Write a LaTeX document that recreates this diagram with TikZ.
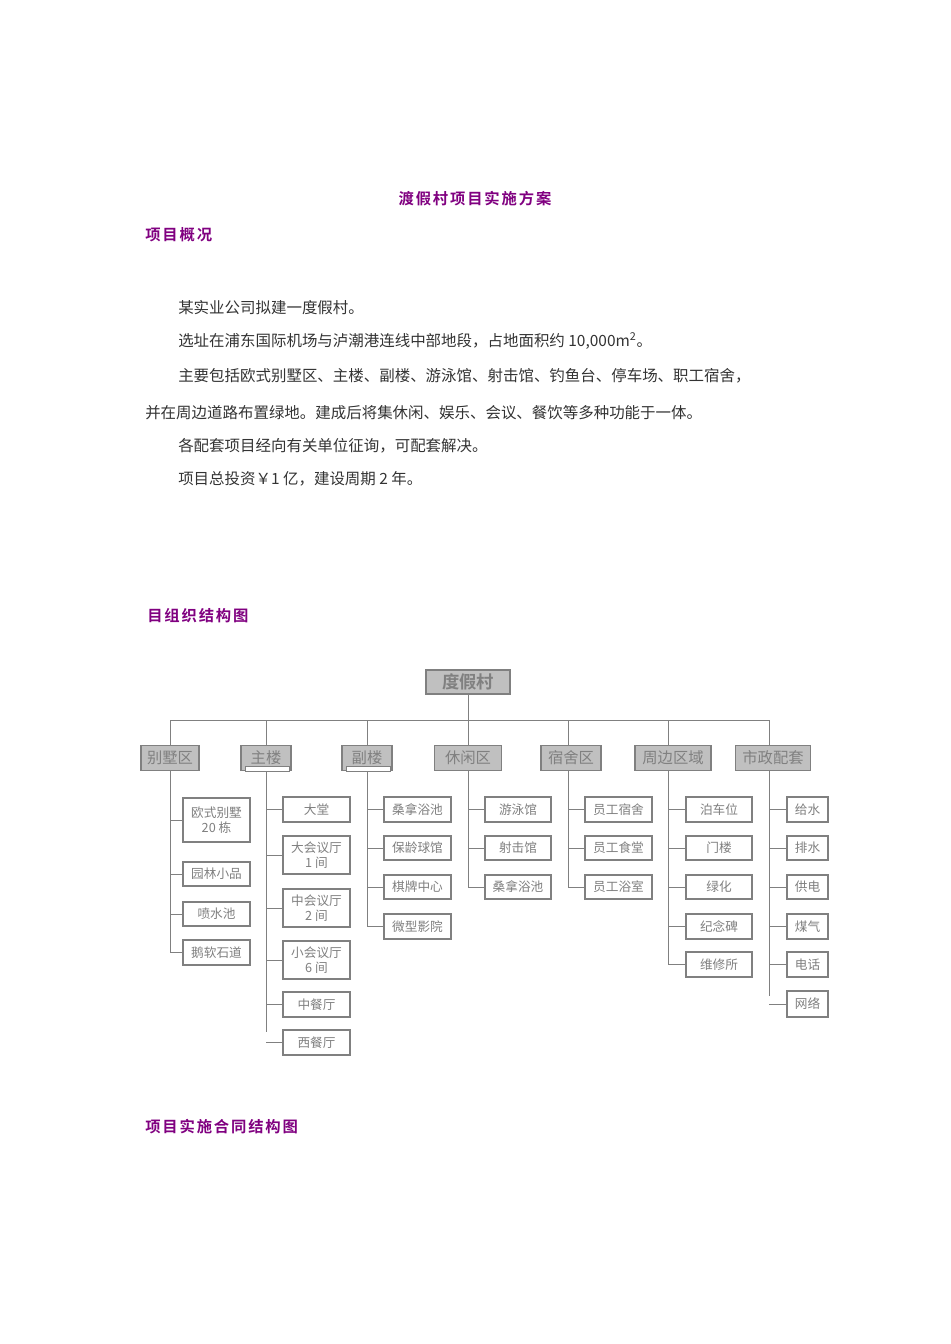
\documentclass[tikz,border=0pt]{standalone}
\usepackage{fontspec}
\setmainfont{Liberation Serif}
\newfontfamily\cjk{Noto Sans CJK SC}
\newfontfamily\cjkb{Noto Sans CJK SC Bold}[LetterSpace=12]
\newfontfamily\cjkbb{Noto Sans CJK SC Bold}
\definecolor{hd}{HTML}{800080}
\definecolor{gr}{HTML}{808080}
\definecolor{fl}{HTML}{C0C0C0}
\definecolor{tx}{HTML}{333333}
\begin{document}
\begin{tikzpicture}[x=0.75pt,y=-0.75pt,
  hdg/.style={anchor=west,text=hd,font=\cjkb\fontsize{11.5}{13}\selectfont,inner sep=0},
  body/.style={anchor=west,text=tx,font=\cjk\fontsize{11.6}{13}\selectfont,inner sep=0},
  lvl/.style={draw=gr,fill=fl,text=gr,font=\cjk\fontsize{11.5}{13}\selectfont,inner sep=0,line width=0.8pt},
  leaf/.style={draw=gr,fill=white,text=gr,font=\cjk\fontsize{9.5}{11}\selectfont,inner sep=0,align=center,line width=0.8pt},
  ln/.style={draw=gr,line width=0.7pt}]
\useasboundingbox (0,0) rectangle (950,1344);
\node[hdg,anchor=center] (title) at (475,199) {渡假村项目实施方案};
\node[hdg] (h1) at (145,235) {项目概况};
\node[body] (p1) at (178,308) {某实业公司拟建一度假村。};
\node[body] (p2) at (178,341) {选址在浦东国际机场与泸潮港连线中部地段，占地面积约 10,000m\textsuperscript{2}。};
\node[body] (p3) at (178,376) {主要包括欧式别墅区、主楼、副楼、游泳馆、射击馆、钓鱼台、停车场、职工宿舍，};
\node[body] (p4) at (145,413) {并在周边道路布置绿地。建成后将集休闲、娱乐、会议、餐饮等多种功能于一体。};
\node[body] (p5) at (178,446) {各配套项目经向有关单位征询，可配套解决。};
\node[body] (p6) at (178,479) {项目总投资￥1 亿，建设周期 2 年。};
\node[hdg] (h2) at (147,616) {目组织结构图};
\node[hdg] (h3) at (145,1127) {项目实施合同结构图};
% root
\node[lvl,minimum width=63pt,minimum height=18pt,font=\cjkbb\fontsize{13}{15}\selectfont] (root) at (468,682) {度假村};
\coordinate (bl) at (170,720); \coordinate (br) at (769,720);
\draw[ln] (root.south) -- (468,720);
\draw[ln] (bl) -- (br);
% level
\foreach \n/\x/\w/\t in {a/170/58/别墅区,b/266/50/主楼,c/367/50/副楼,d/468/67/休闲区,e/571/60/宿舍区,f/673/76/周边区域,g/773/75/市政配套}{
  \node[lvl,minimum width={\w*0.75pt},minimum height=18.75pt] (\n) at (\x,758) {\t};
}
\foreach \n/\x in {a/170,b/266,c/367,d/468,e/568,f/668,g/769}{ \draw[ln] (\x,720) -- (\x,746); }
\fill[white,draw=gr,line width=0.4pt] (245,766) rectangle (289,771);
\fill[white,draw=gr,line width=0.4pt] (346,766) rectangle (390,771);
% leaves: name/trunkx/left/right/ytop/ybot/text
\foreach \n/\tx/\l/\r/\yt/\yb/\t in {
 a1/170/183/250/798/842/{欧式别墅\\20 栋}, a2/170/183/250/862/886/园林小品, a3/170/183/250/902/926/喷水池, a4/170/183/250/940/965/鹅软石道,
 b1/266/283/350/797/822/大堂, b2/266/283/350/836/874/{大会议厅\\1 间}, b3/266/283/350/889/927/{中会议厅\\2 间}, b4/266/283/350/941/979/{小会议厅\\6 间}, b5/266/283/350/992/1017/中餐厅, b6/266/283/350/1030/1055/西餐厅,
 c1/367/384/451/797/822/桑拿浴池, c2/367/384/451/836/860/保龄球馆, c3/367/384/451/875/899/棋牌中心, c4/367/384/451/914/939/微型影院,
 d1/468/485/551/797/822/游泳馆, d2/468/485/551/836/860/射击馆, d3/468/485/551/875/899/桑拿浴池,
 e1/568/585/652/797/822/员工宿舍, e2/568/585/652/836/860/员工食堂, e3/568/585/652/875/899/员工浴室,
 f1/668/686/752/797/822/泊车位, f2/668/686/752/836/860/门楼, f3/668/686/752/875/899/绿化, f4/668/686/752/914/939/纪念碑, f5/668/686/752/952/977/维修所,
 g1/769/787/828/797/822/给水, g2/769/787/828/836/860/排水, g3/769/787/828/875/899/供电, g4/769/787/828/914/939/煤气, g5/769/787/828/952/977/电话, g6/769/787/828/991/1017/网络}{
  \node[leaf,minimum width={(\r-\l)*0.75pt},minimum height={(\yb-\yt)*0.75pt}] (\n) at ({(\l+\r)/2},{(\yt+\yb)/2}) {\t};
  \draw[ln] (\tx,{(\yt+\yb)/2}) -- (\n.west);
}
\draw[ln] (a.south) -- (170,953);
\draw[ln] (b.south) -- (266,1032);
\draw[ln] (c.south) -- (367,927);
\draw[ln] (d.south) -- (468,887);
\draw[ln] (568,771) -- (568,887);
\draw[ln] (668,771) -- (668,964);
\draw[ln] (769,771) -- (769,996);
\end{tikzpicture}
\end{document}
